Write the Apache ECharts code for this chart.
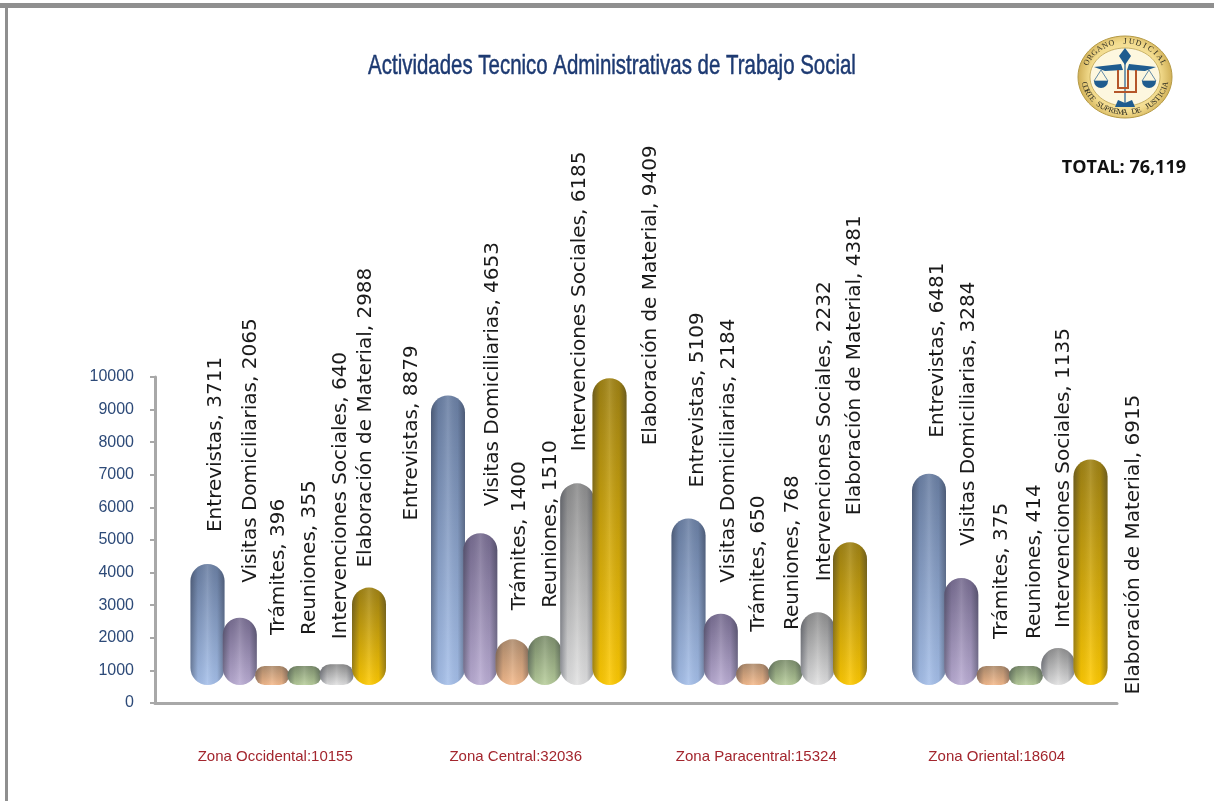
<!DOCTYPE html>
<html>
<head>
<meta charset="utf-8">
<title>Actividades Tecnico Administrativas de Trabajo Social</title>
<script src="https://cdn.jsdelivr.net/npm/echarts@6/dist/echarts.min.js"></script>
<style>
  html, body { margin: 0; padding: 0; background: #fff; }
  #chart { width: 1214px; height: 801px; }
</style>
</head>
<body>
<div id="chart"></div>
<script>
const titleText = 'Actividades Tecnico Administrativas de Trabajo Social';
const totalText = 'TOTAL: 76,119';
const zonas = ['Zona Occidental:10155', 'Zona Central:32036', 'Zona Paracentral:15324', 'Zona Oriental:18604'];

const entrevistas = [3711, 8879, 5109, 6481];
const visitas = [2065, 4653, 2184, 3284];
const tramites = [396, 1400, 650, 375];
const reuniones = [355, 1510, 768, 414];
const intervenciones = [640, 6185, 2232, 1135];
const elaboracion = [2988, 9409, 4381, 6915];

const seriesNames = ['Entrevistas', 'Visitas Domiciliarias', 'Trámites', 'Reuniones', 'Intervenciones Sociales', 'Elaboración de Material'];
const seriesValues = [entrevistas, visitas, tramites, reuniones, intervenciones, elaboracion];

// color arriba / abajo de cada pastilla
const colorsTop = ['#6a7fa3', '#776c90', '#b08c6c', '#7d8f6c', '#8c8c8c', '#a08212'];
const colorsBottom = ['#a6c0ea', '#bbadd4', '#f6bb8c', '#b9cf9c', '#e2e2e2', '#ffca00'];

// las etiquetas estan puestas a mano en el original: [dx, dy] en pantalla, por serie y zona
const labelNudge = [
  [[8, -32], [-36, 125], [9, -31], [9, -36]],
  [[11, -35], [12, -27], [8, -31], [7, -32]],
  [[7, -31], [7, -29], [6, -32], [8, -27]],
  [[5, -31], [6, -28], [7, -30], [9, -27]],
  [[4, -25], [3, -32], [7, -31], [6, -20]],
  [[-3, -20], [41, 67], [5, -27], [43, 235]]
];

const plotTop = 377, plotHeight = 326;
const sans = '"Liberation Sans", sans-serif';

const series = [];
seriesNames.forEach((name, s) => {
  series.push({
    name: name,
    type: 'bar',
    xAxisIndex: 1,
    yAxisIndex: 1,
    barWidth: 34,
    barGap: '-5%',
    barMinHeight: 19,
    data: seriesValues[s].map((v, z) => ({
      value: v,
      // el offset gira con el texto, asi que va [-dy, dx]
      label: { offset: [-labelNudge[s][z][1], labelNudge[s][z][0]] }
    })),
    itemStyle: {
      borderRadius: 17,
      color: {
        type: 'linear', x: 0, y: 0, x2: 0, y2: 1,
        colorStops: [
          { offset: 0, color: colorsTop[s] },
          { offset: 1, color: colorsBottom[s] }
        ]
      }
    },
    label: {
      show: true,
      position: 'top',
      rotate: 90,
      align: 'left',
      verticalAlign: 'middle',
      distance: 0,
      fontFamily: '"DejaVu Sans", sans-serif',
      fontSize: 20,
      color: '#1a1a1a',
      formatter: p => p.seriesName + ', ' + p.value
    }
  });
  // sombra de los bordes encima, para el efecto de volumen
  series.push({
    name: name + ' sombra',
    type: 'bar',
    xAxisIndex: 2,
    yAxisIndex: 1,
    barWidth: 34,
    barGap: '-5%',
    barMinHeight: 19,
    silent: true,
    data: seriesValues[s],
    itemStyle: {
      borderRadius: 17,
      color: {
        type: 'linear', x: 0, y: 0, x2: 1, y2: 0,
        colorStops: [
          { offset: 0, color: 'rgba(30,35,50,0.42)' },
          { offset: 0.22, color: 'rgba(30,35,50,0.06)' },
          { offset: 0.5, color: 'rgba(255,255,255,0.12)' },
          { offset: 0.78, color: 'rgba(30,35,50,0.06)' },
          { offset: 1, color: 'rgba(30,35,50,0.42)' }
        ]
      }
    }
  });
});

// letras en arco para el sello
function arcText(str, cx, cy, rx, ry, from, to, bottom) {
  const out = [];
  const n = str.length;
  for (let i = 0; i < n; i++) {
    const a = (from + (to - from) * (i / (n - 1))) * Math.PI / 180;
    out.push({
      type: 'text',
      x: cx + rx * Math.sin(a),
      y: cy - ry * Math.cos(a),
      rotation: bottom ? Math.PI - a : -a,
      style: {
        text: str[i],
        fill: '#2b2a20',
        font: '8px "Liberation Serif", serif',
        textAlign: 'center',
        textVerticalAlign: 'middle'
      }
    });
  }
  return out;
}

const cx = 1125, cy = 77;
const logo = [
  {
    type: 'ellipse',
    shape: { cx: cx, cy: cy, rx: 47, ry: 41 },
    style: {
      stroke: '#b59a45', lineWidth: 1,
      fill: {
        type: 'radial', x: 0.5, y: 0.5, r: 0.6,
        colorStops: [{ offset: 0, color: '#fff8d8' }, { offset: 0.7, color: '#f3dc8e' }, { offset: 1, color: '#c9a64a' }]
      }
    }
  },
  { type: 'ellipse', shape: { cx: cx, cy: cy, rx: 35, ry: 29 }, style: { fill: '#fdf7df', stroke: '#b59a45', lineWidth: 0.7 } },
  { type: 'polygon', shape: { points: [[cx, 48], [cx + 6, 56], [cx, 65], [cx - 6, 56]] }, style: { fill: '#1f5c8f' } },
  { type: 'polygon', shape: { points: [[cx - 31, 67], [cx - 4, 64], [cx - 2, 70], [cx - 20, 71]] }, style: { fill: '#1f5c8f' } },
  { type: 'polygon', shape: { points: [[cx + 31, 67], [cx + 4, 64], [cx + 2, 70], [cx + 20, 71]] }, style: { fill: '#1f5c8f' } },
  { type: 'line', shape: { x1: cx, y1: 60, x2: cx, y2: 106 }, style: { stroke: '#1f5c8f', lineWidth: 1.2 } },
  { type: 'sector', shape: { cx: cx - 24, cy: 81, r: 7, startAngle: 0, endAngle: Math.PI }, style: { fill: '#1f5c8f' } },
  { type: 'sector', shape: { cx: cx + 24, cy: 81, r: 7, startAngle: 0, endAngle: Math.PI }, style: { fill: '#1f5c8f' } },
  { type: 'polyline', shape: { points: [[cx - 24, 70], [cx - 31, 81], [cx - 17, 81], [cx - 24, 70]] }, style: { stroke: '#1f5c8f', fill: 'none', lineWidth: 0.7 } },
  { type: 'polyline', shape: { points: [[cx + 24, 70], [cx + 31, 81], [cx + 17, 81], [cx + 24, 70]] }, style: { stroke: '#1f5c8f', fill: 'none', lineWidth: 0.7 } },
  { type: 'polyline', shape: { points: [[cx - 7, 70], [cx - 7, 88], [cx + 3, 88], [cx + 3, 70]] }, style: { stroke: '#b5562a', fill: 'none', lineWidth: 2 } },
  { type: 'polyline', shape: { points: [[cx - 11, 92], [cx + 11, 92], [cx + 11, 70]] }, style: { stroke: '#b5562a', fill: 'none', lineWidth: 2 } },
  { type: 'polygon', shape: { points: [[cx - 10, 107], [cx - 7, 100], [cx, 103], [cx + 7, 100], [cx + 10, 107]] }, style: { fill: '#1f5c8f' } }
].concat(
  arcText('ORGANO JUDICIAL', cx, cy, 41.5, 35.5, -66, 66, false),
  arcText('CORTE SUPREMA DE JUSTICIA', cx, cy, 41.5, 35.5, 258, 102, true)
);

const chart = echarts.init(document.getElementById('chart'), null, { renderer: 'canvas' });
chart.setOption({
  animation: false,
  backgroundColor: '#ffffff',
  grid: [
    { left: 155, top: plotTop, width: 962, height: plotHeight },
    { left: 168, top: plotTop, width: 962, height: plotHeight }
  ],
  xAxis: [
    {
      type: 'category',
      gridIndex: 0,
      data: zonas,
      axisLine: { onZero: false, lineStyle: { color: '#a8a8a8', width: 3 } },
      axisTick: { length: 7, lineStyle: { color: '#a8a8a8', width: 2 } },
      axisLabel: { interval: 0, margin: 46, fontFamily: sans, fontSize: 15, color: '#a3262e' }
    },
    { type: 'category', gridIndex: 1, data: zonas, show: false },
    { type: 'category', gridIndex: 1, data: zonas, show: false }
  ],
  yAxis: [
    {
      type: 'value',
      gridIndex: 0,
      min: 0,
      max: 10000,
      interval: 1000,
      splitLine: { show: false },
      axisLine: { show: true, lineStyle: { color: '#a8a8a8', width: 3 } },
      axisTick: { show: true, length: 5, lineStyle: { color: '#a8a8a8', width: 2 } },
      axisLabel: { margin: 21, fontFamily: sans, fontSize: 16, color: '#2d4a78', formatter: v => String(v) }
    },
    // las pastillas flotan un poco sobre el eje, por eso min negativo
    { type: 'value', gridIndex: 1, min: -552, max: 9448, show: false, splitLine: { show: false } }
  ],
  series: series,
  graphic: [
    { type: 'rect', shape: { x: 0, y: 3, width: 1214, height: 5 }, style: { fill: '#8f8f8f' }, silent: true },
    { type: 'rect', shape: { x: 5, y: 3, width: 3, height: 798 }, style: { fill: '#8f8f8f' }, silent: true },
    {
      type: 'text',
      x: 612,
      y: 66,
      scaleX: 0.73,
      style: {
        text: titleText,
        fill: '#1d3a72',
        stroke: '#1d3a72',
        lineWidth: 0.5,
        font: '28px "Liberation Sans", sans-serif',
        textAlign: 'center',
        textVerticalAlign: 'middle'
      }
    },
    {
      type: 'text',
      x: 1186,
      y: 168,
      style: {
        text: totalText,
        fill: '#111111',
        font: 'bold 18px "Open Sans", sans-serif',
        textAlign: 'right',
        textVerticalAlign: 'middle'
      }
    },
    { type: 'group', children: logo, silent: true }
  ]
});
</script>
</body>
</html>
